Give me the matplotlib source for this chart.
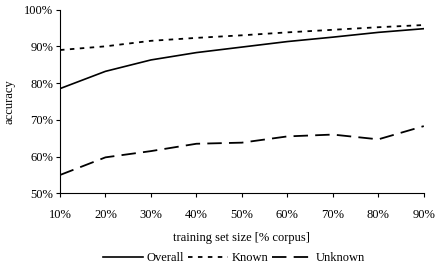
import numpy as np
import matplotlib
matplotlib.use("Agg")
import matplotlib.pyplot as plt
from matplotlib.ticker import FuncFormatter

plt.rcParams['font.family'] = ['Liberation Serif', 'DejaVu Serif']

# training set size (% of corpus)
sizes = [10, 20, 30, 40, 50, 60, 70, 80, 90]
overall = [78.5, 83.2, 86.3, 88.3, 89.8, 91.3, 92.5, 93.8, 94.8]
known = [89.0, 90.0, 91.5, 92.3, 93.0, 93.8, 94.5, 95.2, 95.8]
unknown = [55.0, 59.8, 61.5, 63.5, 63.8, 65.5, 66.0, 64.7, 68.3]

fig = plt.figure(figsize=(4.41, 2.66), dpi=100)
ax = fig.add_axes([0.136, 0.273, 0.825, 0.691])

ax.plot(sizes, overall, color='black', lw=1.2, label='Overall')
ax.plot(sizes, known, color='black', lw=1.3, dashes=(2.5, 3), label='Known')
ax.plot(sizes, unknown, color='black', lw=1.3, dashes=(8, 4), label='Unknown')

ax.set_xlim(10, 90)
ax.set_ylim(50, 100)
ax.set_xticks(sizes)
ax.set_yticks(range(50, 101, 10))
pct = FuncFormatter(lambda v, p: '%d%%' % v)
ax.xaxis.set_major_formatter(pct)
ax.yaxis.set_major_formatter(pct)
ax.tick_params(labelsize=9, direction='out', length=3, width=0.8, color='black')
ax.tick_params(axis='x', pad=8)
ax.tick_params(axis='y', pad=2)
for s in ['top', 'right']:
    ax.spines[s].set_visible(False)
for s in ['left', 'bottom']:
    ax.spines[s].set_linewidth(0.8)

ax.set_xlabel('training set size [% corpus]', fontsize=9, labelpad=8)
ax.set_ylabel('accuracy', fontsize=9, labelpad=6)

fig.legend(loc='lower center', bbox_to_anchor=(0.53, -0.035), ncol=3, frameon=False,
           fontsize=9, handlelength=3.2, columnspacing=0.3, handletextpad=0.3)

fig.savefig('out.png', dpi=100)
